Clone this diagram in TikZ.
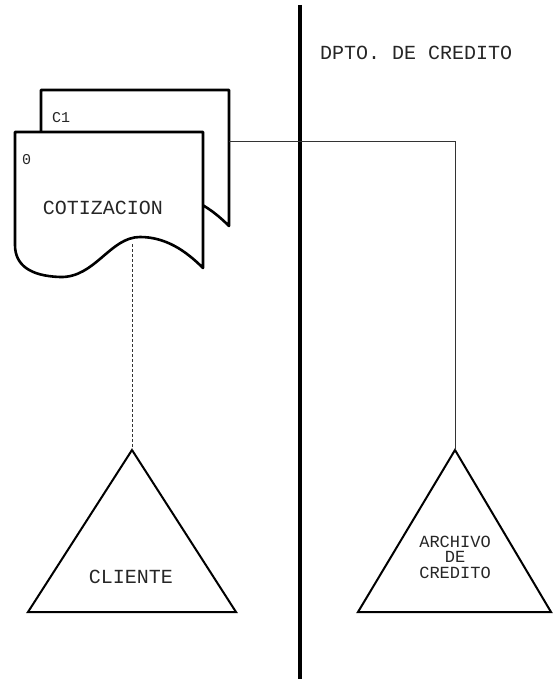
\documentclass[tikz,border=0pt]{standalone}
\usepackage{fontspec}
\newfontfamily\typew{Liberation Mono}
\begin{document}
\begin{tikzpicture}[x=1pt,y=-1pt,
  doc/.style={draw=black,line width=2.6pt,fill=white,line join=round},
  tri/.style={draw=black,line width=2pt,line join=miter},
  conn/.style={draw=black!80,line width=0.7pt},
  dconn/.style={draw=black!80,line width=0.7pt,densely dashed},
  lbl/.style={font=\typew\fontsize{20}{20}\selectfont,inner sep=0pt,text=black!85},
  lblc/.style={font=\typew\fontsize{17}{15.5}\selectfont,inner sep=0pt,align=center,text=black!85}]
\useasboundingbox (0,0) rectangle (552,679);
% swimlane divider
\coordinate (divtop) at (300,5);
\coordinate (divbot) at (300,679);
\draw[line width=4pt] (divtop) -- (divbot);
\node[lbl,anchor=west] (dept) at (320,53) {DPTO. DE CREDITO};
% back document C1
\draw[doc,shift={(26,-42)}] (15,132) -- (203,132) -- (203,268)
  .. controls (185,250) and (165,237) .. (140,237)
  .. controls (110,237) and (95,278) .. (60,277)
  .. controls (30,276) and (15,265) .. (15,245) -- cycle;
\coordinate (c1r) at (229,141);
\node[lbl,anchor=west,font=\typew\fontsize{15}{15}\selectfont] (c1) at (52,118) {C1};
% front document 0
\draw[doc] (15,132) -- (203,132) -- (203,268)
  .. controls (185,250) and (165,237) .. (140,237)
  .. controls (110,237) and (95,278) .. (60,277)
  .. controls (30,276) and (15,265) .. (15,245) -- cycle;
\coordinate (cotb) at (132,244);
\node[lbl,anchor=west,font=\typew\fontsize{15}{15}\selectfont] (zero) at (22,160) {0};
\node[lbl] (cot) at (103,208) {COTIZACION};
% triangles
\coordinate (clap) at (132,450);
\draw[tri] (clap) -- (236,612) -- (28,612) -- cycle;
\node[lbl] (cli) at (131,577) {CLIENTE};
\coordinate (arap) at (455,450);
\draw[tri] (arap) -- (551,612) -- (358,612) -- cycle;
\node[lblc] (arc) at (455,557) {ARCHIVO\\DE\\CREDITO};
% connectors
\draw[conn] (c1r) -| (arap);
\draw[dconn] (cotb) -- (clap);
\end{tikzpicture}
\end{document}
